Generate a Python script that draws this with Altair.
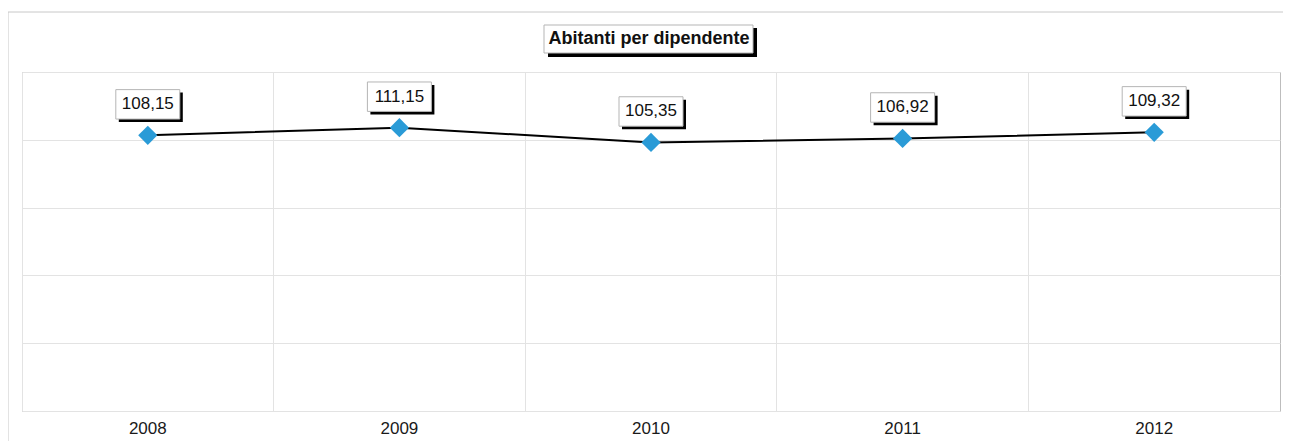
import altair as alt
import pandas as pd

# ---- data ----
years = ["2008", "2009", "2010", "2011", "2012"]
values = [108.15, 111.15, 105.35, 106.92, 109.32]
title_text = ["Abitanti per dipendente"]
y_grid = [0, 26.6, 53.2, 79.8, 106.4, 133.0]

df = pd.DataFrame({"year": years, "value": values})
tdf = pd.DataFrame({"t": title_text})

W, H = 1258, 339
FONT = "Liberation Sans"
GRID = "#e3e3e3"
BOX = "M-1,-0.46L1,-0.46L1,0.46L-1,0.46Z"
LBL_OFF = -31

x_enc = alt.X(
    "year:N", sort=years,
    scale=alt.Scale(type="band", paddingInner=0, paddingOuter=0),
    axis=alt.Axis(title=None, bandPosition=0, labelAngle=0,
                  ticks=False, domain=False, labelPadding=9, labelFontSize=17,
                  labelFont=FONT, labelColor="#1a1a1a", grid=True,
                  gridColor=GRID, gridWidth=1),
)
y_enc = alt.Y(
    "value:Q",
    scale=alt.Scale(domain=[0, 133], nice=False, zero=True),
    axis=alt.Axis(title=None, values=y_grid, labels=False, ticks=False,
                  domain=False, grid=True, gridColor=GRID, gridWidth=1),
)

base = alt.Chart(df).encode(x=x_enc, y=y_enc).transform_calculate(
    label="replace(format(datum.value, '.2f'), '.', ',')"
)

line = base.mark_line(color="black", strokeWidth=2)
pts = base.mark_point(shape="diamond", filled=True, size=370, color="#2a9bd7", opacity=1)
shadow = base.mark_point(shape=BOX, filled=True, size=64 ** 2, color="black",
                         opacity=1, xOffset=3, yOffset=LBL_OFF + 3)
box = base.mark_point(shape=BOX, filled=True, fill="white", size=64 ** 2,
                      stroke="#b5b5b5", strokeWidth=1, opacity=1, yOffset=LBL_OFF)
txt = base.mark_text(fontSize=17, font=FONT, color="#111111", dy=LBL_OFF,
                     baseline="middle").encode(text="label:N")

tbase = alt.Chart(tdf)
tshadow = tbase.mark_rect(color="black").encode(
    x=alt.value(526), x2=alt.value(735), y=alt.value(-44), y2=alt.value(-15))
tbox = tbase.mark_rect(fill="white", stroke="#b5b5b5", strokeWidth=1).encode(
    x=alt.value(522), x2=alt.value(731), y=alt.value(-47), y2=alt.value(-19))
ttxt = tbase.mark_text(fontSize=18, font=FONT, fontWeight="bold", color="#111111",
                       baseline="middle", align="center").encode(
    x=alt.value(627), y=alt.value(-33), text="t:N")

frame_top = tbase.mark_rule(color="#c8c8c8", strokeWidth=1).encode(
    x=alt.value(-14), x2=alt.value(1261), y=alt.value(-60))
frame_left = tbase.mark_rule(color="#c8c8c8", strokeWidth=1).encode(
    x=alt.value(-14), y=alt.value(-60), y2=alt.value(370))

chart = alt.layer(
    frame_top, frame_left, line, pts, shadow, box, txt, tshadow, tbox, ttxt
).properties(
    width=W, height=H,
    padding={"left": 14, "top": 64, "right": 4, "bottom": 30},
    autosize=alt.AutoSizeParams(type="none"),
    background="white",
).configure_view(stroke="#bdbdbd", strokeWidth=1)

chart.save("out.html", embed_options={"renderer": "svg", "actions": False})
